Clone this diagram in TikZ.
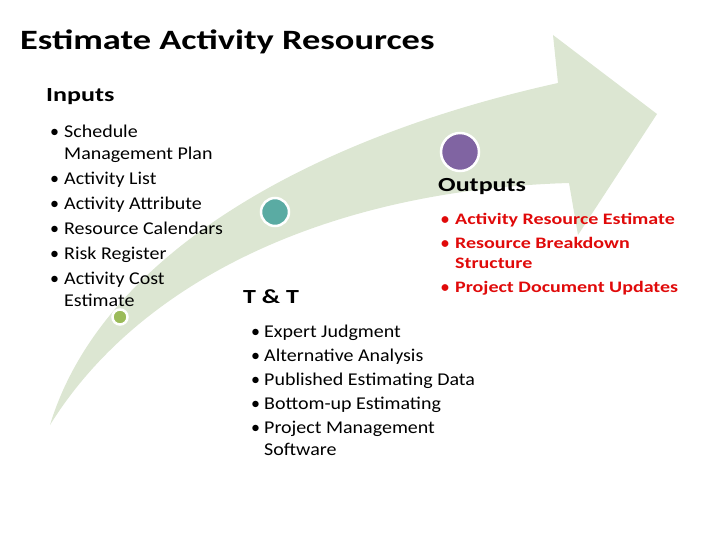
\documentclass[tikz,border=0pt]{standalone}
\usepackage{fontspec}
\setmainfont{Carlito}[FakeStretch=1.11]
\newfontfamily\headfont{Carlito}[FakeStretch=1.3]
\newfontfamily\redfont{Carlito}[FakeStretch=1.25]
\newfontfamily\plainfont{Carlito}
\usetikzlibrary{positioning}
\definecolor{bandgreen}{HTML}{DCE6D2}
\definecolor{leafgreen}{HTML}{9BBB59}
\definecolor{seateal}{HTML}{5AABA3}
\definecolor{plum}{HTML}{8064A2}
\definecolor{outred}{HTML}{E00A0A}
\newcommand{\bul}{{\plainfont\textbullet}}

\tikzset{
  head/.style={anchor=base west, inner sep=0pt, font=\fontsize{20}{24}\selectfont\headfont\bfseries},
  items/.style={anchor=base west, inner sep=0pt},
  dot/.style={circle, draw=white, line width=2.5pt, inner sep=0pt}
}

\begin{document}
\begin{tikzpicture}[x=1pt, y=-1pt]
            \useasboundingbox (0,0) rectangle (720,540);
            % curved band with arrow head
            \fill[bandgreen] (50,425) .. controls (100,260) and (300,140) .. (558,83)
                -- (553,35) -- (657,114) -- (578,235) -- (569,183)
                .. controls (330,190) and (140,280) .. (50,425) -- cycle;
            \node[dot, fill=leafgreen, minimum size=15pt] (inDot) at (120,317) {};
            \node[dot, fill=seateal, minimum size=28pt] (ttDot) at (275,212) {};
            \node[dot, fill=plum, minimum size=38pt] (outDot) at (460,152) {};

            \node[anchor=base west, inner sep=0pt, font=\fontsize{28}{34}\selectfont\headfont\bfseries] (title) at (20,50) {Estimate Activity Resources};

            \node[head] (inputs) at (46,102) {Inputs};
            \node[items] (inList) at (50,138) {\fontsize{18}{22}\selectfont
              \begin{tabular}[t]{@{}p{14pt}@{}l@{}}
                \bul & Schedule\\
                     & Management Plan\\[3pt]
                \bul & Activity List\\[3pt]
                \bul & Activity Attribute\\[3pt]
                \bul & Resource Calendars\\[3pt]
                \bul & Risk Register\\[3pt]
                \bul & Activity Cost\\
                     & Estimate
              \end{tabular}};

            \node[head] (tt) at (243,303) {T \& T};
            \node[items] (ttList) at (251,337) {\fontsize{18}{22}\selectfont
              \begin{tabular}[t]{@{}p{13pt}@{}l@{}}
                \bul & Expert Judgment\\[2pt]
                \bul & Alternative Analysis\\[2pt]
                \bul & Published Estimating Data\\[2pt]
                \bul & Bottom-up Estimating\\[2pt]
                \bul & Project Management\\
                     & Software
              \end{tabular}};

            \node[head] (outputs) at (438,192) {Outputs};
            \node[items, text=outred] (outList) at (441,225) {\fontsize{16}{20}\selectfont\redfont\bfseries
              \begin{tabular}[t]{@{}p{14pt}@{}l@{}}
                \bul & Activity Resource Estimate\\[4pt]
                \bul & Resource Breakdown\\
                     & Structure\\[4pt]
                \bul & Project Document Updates
              \end{tabular}};
\end{tikzpicture}
\end{document}
